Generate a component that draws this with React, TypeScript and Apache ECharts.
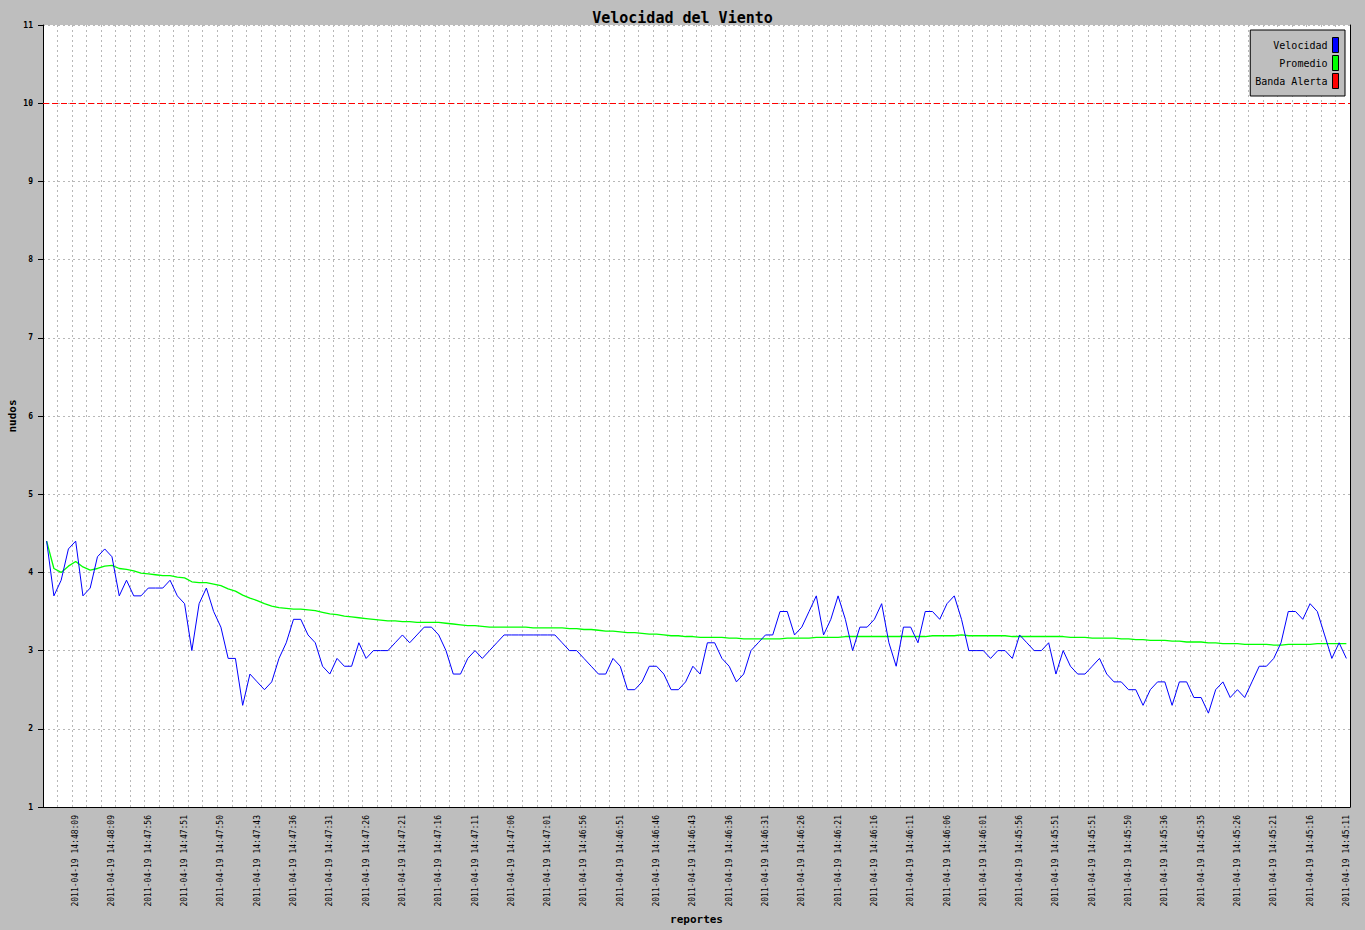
import React, { useEffect, useRef } from "react";
import * as echarts from "echarts";

const TITLE = "Velocidad del Viento";
const X_NAME = "reportes";
const Y_NAME = "nudos";
const ALERT_LEVEL = 10;
const Y_MIN = 1;
const Y_MAX = 11;
const Y_STEP = 1;
const LABEL_EVERY = 5;
const LABEL_OFFSET = 4;
const GRID_EVERY = 2;

const velocidad = [
  4.4, 3.7, 3.9, 4.3, 4.4, 3.7, 3.8, 4.2, 4.3, 4.2,
  3.7, 3.9, 3.7, 3.7, 3.8, 3.8, 3.8, 3.9, 3.7, 3.6,
  3.0, 3.6, 3.8, 3.5, 3.3, 2.9, 2.9, 2.3, 2.7, 2.6,
  2.5, 2.6, 2.9, 3.1, 3.4, 3.4, 3.2, 3.1, 2.8, 2.7,
  2.9, 2.8, 2.8, 3.1, 2.9, 3.0, 3.0, 3.0, 3.1, 3.2,
  3.1, 3.2, 3.3, 3.3, 3.2, 3.0, 2.7, 2.7, 2.9, 3.0,
  2.9, 3.0, 3.1, 3.2, 3.2, 3.2, 3.2, 3.2, 3.2, 3.2,
  3.2, 3.1, 3.0, 3.0, 2.9, 2.8, 2.7, 2.7, 2.9, 2.8,
  2.5, 2.5, 2.6, 2.8, 2.8, 2.7, 2.5, 2.5, 2.6, 2.8,
  2.7, 3.1, 3.1, 2.9, 2.8, 2.6, 2.7, 3.0, 3.1, 3.2,
  3.2, 3.5, 3.5, 3.2, 3.3, 3.5, 3.7, 3.2, 3.4, 3.7,
  3.4, 3.0, 3.3, 3.3, 3.4, 3.6, 3.1, 2.8, 3.3, 3.3,
  3.1, 3.5, 3.5, 3.4, 3.6, 3.7, 3.4, 3.0, 3.0, 3.0,
  2.9, 3.0, 3.0, 2.9, 3.2, 3.1, 3.0, 3.0, 3.1, 2.7,
  3.0, 2.8, 2.7, 2.7, 2.8, 2.9, 2.7, 2.6, 2.6, 2.5,
  2.5, 2.3, 2.5, 2.6, 2.6, 2.3, 2.6, 2.6, 2.4, 2.4,
  2.2, 2.5, 2.6, 2.4, 2.5, 2.4, 2.6, 2.8, 2.8, 2.9,
  3.1, 3.5, 3.5, 3.4, 3.6, 3.5, 3.2, 2.9, 3.1, 2.9,
];

const promedio = [
  4.40, 4.05, 4.00, 4.08, 4.14, 4.07, 4.03, 4.05, 4.08, 4.09,
  4.05, 4.04, 4.02, 3.99, 3.98, 3.97, 3.96, 3.96, 3.94, 3.93,
  3.88, 3.87, 3.87, 3.85, 3.83, 3.79, 3.76, 3.71, 3.67, 3.64,
  3.60, 3.57, 3.55, 3.54, 3.53, 3.53, 3.52, 3.51, 3.49, 3.47,
  3.46, 3.44, 3.43, 3.42, 3.41, 3.40, 3.39, 3.38, 3.38, 3.37,
  3.37, 3.36, 3.36, 3.36, 3.36, 3.35, 3.34, 3.33, 3.32, 3.32,
  3.31, 3.30, 3.30, 3.30, 3.30, 3.30, 3.30, 3.29, 3.29, 3.29,
  3.29, 3.29, 3.28, 3.28, 3.27, 3.27, 3.26, 3.25, 3.25, 3.24,
  3.23, 3.23, 3.22, 3.21, 3.21, 3.20, 3.19, 3.19, 3.18, 3.18,
  3.17, 3.17, 3.17, 3.17, 3.16, 3.16, 3.15, 3.15, 3.15, 3.15,
  3.15, 3.15, 3.16, 3.16, 3.16, 3.16, 3.17, 3.17, 3.17, 3.17,
  3.18, 3.18, 3.18, 3.18, 3.18, 3.18, 3.18, 3.18, 3.18, 3.18,
  3.18, 3.18, 3.19, 3.19, 3.19, 3.19, 3.20, 3.19, 3.19, 3.19,
  3.19, 3.19, 3.19, 3.18, 3.18, 3.18, 3.18, 3.18, 3.18, 3.18,
  3.18, 3.17, 3.17, 3.17, 3.16, 3.16, 3.16, 3.16, 3.15, 3.15,
  3.14, 3.14, 3.13, 3.13, 3.13, 3.12, 3.12, 3.11, 3.11, 3.11,
  3.10, 3.10, 3.09, 3.09, 3.09, 3.08, 3.08, 3.08, 3.08, 3.07,
  3.07, 3.08, 3.08, 3.08, 3.08, 3.09, 3.09, 3.09, 3.09, 3.09,
];

const shownLabels = [
  "2011-04-19 14:48:09", "2011-04-19 14:48:09", "2011-04-19 14:47:56",
  "2011-04-19 14:47:51", "2011-04-19 14:47:50", "2011-04-19 14:47:43",
  "2011-04-19 14:47:36", "2011-04-19 14:47:31", "2011-04-19 14:47:26",
  "2011-04-19 14:47:21", "2011-04-19 14:47:16", "2011-04-19 14:47:11",
  "2011-04-19 14:47:06", "2011-04-19 14:47:01", "2011-04-19 14:46:56",
  "2011-04-19 14:46:51", "2011-04-19 14:46:46", "2011-04-19 14:46:43",
  "2011-04-19 14:46:36", "2011-04-19 14:46:31", "2011-04-19 14:46:26",
  "2011-04-19 14:46:21", "2011-04-19 14:46:16", "2011-04-19 14:46:11",
  "2011-04-19 14:46:06", "2011-04-19 14:46:01", "2011-04-19 14:45:56",
  "2011-04-19 14:45:51", "2011-04-19 14:45:51", "2011-04-19 14:45:50",
  "2011-04-19 14:45:36", "2011-04-19 14:45:35", "2011-04-19 14:45:26",
  "2011-04-19 14:45:21", "2011-04-19 14:45:16", "2011-04-19 14:45:11",
];

const categories = velocidad.map((_, i) => String(i));
// one grid band per pair of reports (vertical grid every second report)
const gridBands = categories.filter((_, i) => i % GRID_EVERY === 0);

const MONO = "'DejaVu Sans Mono', monospace";

export default function App() {
  const ref = useRef<HTMLDivElement>(null);

  useEffect(() => {
    if (!ref.current) return;
    const chart = echarts.init(ref.current, null, { renderer: "svg" });
    const isLabel = (i: number) => i % LABEL_EVERY === LABEL_OFFSET;
    chart.setOption({
      animation: false,
      backgroundColor: "#bebebe",
      title: {
        text: TITLE,
        left: "center",
        top: 5,
        textStyle: { fontFamily: MONO, fontWeight: "bold", fontSize: 15, color: "#000" },
      },
      legend: {
        orient: "vertical",
        right: 20,
        top: 30,
        align: "right",
        icon: "rect",
        itemWidth: 6,
        itemHeight: 15,
        itemGap: 2,
        padding: [7, 6, 7, 5],
        backgroundColor: "#bebebe",
        borderColor: "#000",
        borderWidth: 1,
        borderRadius: 0,
        itemStyle: { borderColor: "#000", borderWidth: 1 },
        textStyle: { fontFamily: MONO, fontSize: 10, color: "#000" },
        data: ["Velocidad", "Promedio", "Banda Alerta"],
      },
      grid: {
        left: 43,
        top: 25,
        right: 15,
        bottom: 123,
        outerBoundsMode: "none",
        containLabel: false,
        show: true,
        backgroundColor: "#ffffff",
        borderWidth: 0,
      },
      xAxis: [
        {
          type: "category",
          data: categories,
          boundaryGap: true,
          name: X_NAME,
          nameLocation: "middle",
          nameGap: 107,
          nameMoveOverlap: false,
          nameTextStyle: { fontFamily: MONO, fontWeight: "bold", fontSize: 11, color: "#000", verticalAlign: "top" },
          axisLine: { show: true, lineStyle: { color: "#000", width: 1 } },
          axisTick: { show: false },
          axisLabel: {
            interval: (i: number) => isLabel(i),
            rotate: 90,
            margin: 8,
            fontFamily: MONO,
            fontSize: 8,
            color: "#000",
            formatter: (_v: string, i: number) => {
              const k = (i - LABEL_OFFSET) / LABEL_EVERY;
              return Number.isInteger(k) && shownLabels[k] ? shownLabels[k] : "";
            },
          },
          splitLine: { show: false },
        },
        {
          type: "category",
          data: gridBands,
          boundaryGap: true,
          position: "bottom",
          axisLine: { show: false },
          axisTick: { show: false },
          axisLabel: { show: false },
          splitLine: {
            show: true,
            interval: 0,
            lineStyle: { color: "#b8b8b8", type: [2, 3], width: 1 },
          },
        },
      ],
      yAxis: [
        {
          type: "value",
          min: Y_MIN,
          max: Y_MAX,
          interval: Y_STEP,
          name: Y_NAME,
          nameLocation: "middle",
          nameGap: 25,
          nameRotate: 90,
          nameMoveOverlap: false,
          nameTextStyle: { fontFamily: MONO, fontWeight: "bold", fontSize: 11, color: "#000" },
          axisLine: { show: true, lineStyle: { color: "#000", width: 1 } },
          axisTick: { show: true, length: 5, lineStyle: { color: "#000" } },
          axisLabel: { fontFamily: MONO, fontWeight: "bold", fontSize: 8, color: "#000", margin: 10 },
          splitLine: { show: true, lineStyle: { color: "#b8b8b8", type: [2, 3], width: 1 } },
        },
        {
          type: "value",
          min: Y_MIN,
          max: Y_MAX,
          interval: Y_STEP,
          position: "right",
          axisLine: { show: true, onZero: false, lineStyle: { color: "#000", width: 1 } },
          axisTick: { show: false },
          axisLabel: { show: false },
          splitLine: { show: false },
        },
      ],
      series: [
        {
          name: "Velocidad",
          type: "line",
          data: velocidad,
          showSymbol: false,
          symbol: "none",
          color: "#0000ff",
          lineStyle: { color: "#0000ff", width: 1 },
          z: 4,
        },
        {
          name: "Promedio",
          type: "line",
          data: promedio,
          showSymbol: false,
          symbol: "none",
          color: "#00ff00",
          lineStyle: { color: "#00ff00", width: 1.3 },
          z: 3,
        },
        {
          name: "Banda Alerta",
          type: "line",
          data: [],
          symbol: "none",
          color: "#ff0000",
          lineStyle: { color: "#ff0000", width: 1 },
          markLine: {
            silent: true,
            symbol: "none",
            label: { show: false },
            lineStyle: { color: "#ff0000", type: [6, 3], width: 1 },
            data: [{ yAxis: ALERT_LEVEL }],
          },
          z: 2,
        },
      ],
    });
    return () => chart.dispose();
  }, []);

  return (
    <div
      ref={ref}
      style={{ position: "absolute", left: 0, top: 0, width: 1365, height: 930 }}
    />
  );
}
